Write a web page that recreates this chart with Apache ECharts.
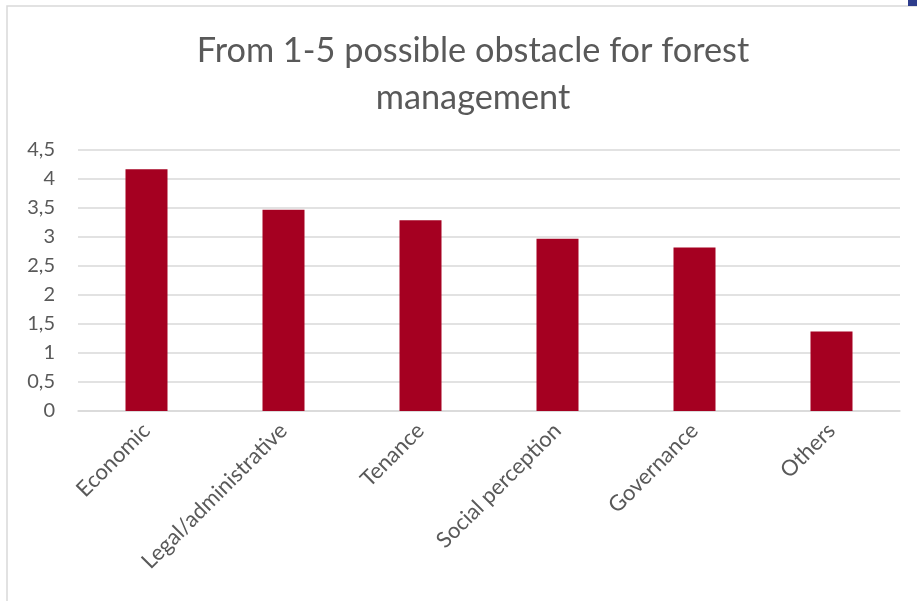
<!DOCTYPE html>
<html>
<head>
<meta charset="utf-8">
<script src="https://cdn.jsdelivr.net/npm/echarts@6/dist/echarts.min.js"></script>
<style>
html,body{margin:0;padding:0;background:#fff;}
#c{width:917px;height:601px;}
</style>
</head>
<body>
<div id="c"></div>
<script>
const categories = ["Economic", "Legal/administrative", "Tenance", "Social perception", "Governance", "Others"];
const values = [4.17, 3.47, 3.29, 2.97, 2.82, 1.37];
const titleText = "From 1-5 possible obstacle for forest\nmanagement";

const chart = echarts.init(document.getElementById('c'));
chart.setOption({
  animation: false,
  backgroundColor: '#ffffff',
  title: {
    text: titleText,
    left: 468,
    textAlign: 'center',
    top: 22,
    textStyle: {
      fontFamily: 'Lato',
      fontSize: 34.3,
      fontWeight: 'normal',
      color: '#595959',
      lineHeight: 47
    }
  },
  graphic: [
    { type: 'rect', shape: { x: 7, y: 6, width: 1000, height: 700 }, style: { fill: 'none', stroke: '#d9d9d9', lineWidth: 1.5 }, silent: true },
    { type: 'rect', shape: { x: 908, y: 0, width: 9, height: 6 }, style: { fill: '#2e3d8c' }, silent: true }
  ],
  grid: { left: 78, right: 17, top: 150, bottom: 190 },
  xAxis: {
    type: 'category',
    data: categories,
    axisLine: { show: true, lineStyle: { color: '#d9d9d9', width: 1.5 } },
    axisTick: { show: false },
    axisLabel: {
      rotate: 45,
      interval: 0,
      margin: 16,
      color: '#595959',
      fontFamily: 'Lato',
      fontSize: 22
    }
  },
  yAxis: {
    type: 'value',
    min: 0,
    max: 4.5,
    interval: 0.5,
    axisLine: { show: false },
    axisTick: { show: false },
    splitLine: { lineStyle: { color: '#d9d9d9', width: 1.5 } },
    axisLabel: {
      margin: 23,
      color: '#595959',
      fontFamily: 'Lato',
      fontSize: 20,
      formatter: v => String(v).replace('.', ',')
    }
  },
  series: [{
    type: 'bar',
    data: values,
    barWidth: 42,
    itemStyle: { color: '#a50021' }
  }]
});
</script>
</body>
</html>
